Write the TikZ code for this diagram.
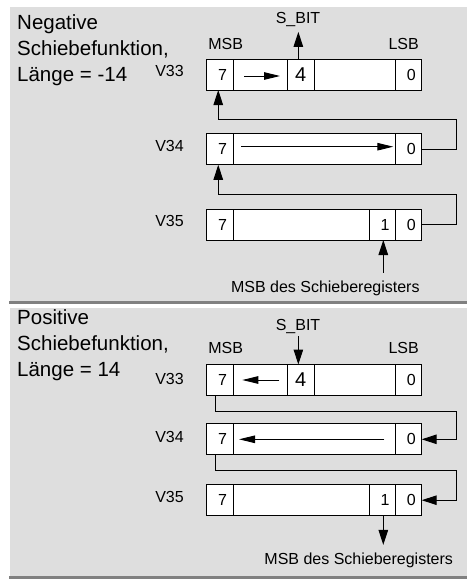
\documentclass[tikz,border=0pt]{standalone}
\usepackage{fontspec}
\setmainfont{Liberation Sans}
\usetikzlibrary{arrows.meta, calc, positioning}
\definecolor{PanelF}{HTML}{DEDEDE}
\definecolor{RuleG} {HTML}{808080}
\tikzset{
  cell/.style={
    rectangle, draw=black, fill=white, line width=1pt,
    minimum height=31pt, inner sep=0pt, outer sep=0pt,
    font=\fontsize{16}{18}\selectfont,
  },
  % digit sits a little right of the cell centre
  dig/.style={execute at begin node=\hspace*{6pt}},
  lbl/.style={font=\fontsize{16}{18}\selectfont, inner sep=0pt},
  ttl/.style={
    font=\fontsize{20.5}{26.2}\selectfont, align=left,
    inner sep=0pt, anchor=north west,
  },
  arr/.style={-{Triangle[length=15pt,width=9.5pt]}, line width=1pt},
  sarr/.style={-{Triangle[length=16pt,width=7.5pt]}, line width=1pt},
  panel/.style={fill=PanelF, draw=none},
  rulebar/.style={draw=RuleG, line width=2.5pt},
}

\begin{document}
\begin{tikzpicture}[x=1pt,y=-1pt]
  \useasboundingbox (0,0) rectangle (467,579);

  % panels
  \fill[panel] (10,7) rectangle (467,301);
  \draw[rulebar] (9,302.5) -- (467,302.5);
  \fill[panel] (10,308) rectangle (467,576);
  \draw[rulebar] (9,577.5) -- (467,577.5);

  % ---- negative shift ----
  \node[ttl] (ttlA) at (17,14.5) {Negative\\Schiebefunktion,\\Länge = -14};

  \node[lbl] (mA) at (225.7,44.3) {MSB};
  \node[lbl] (lA) at (403.7,44.3) {LSB};
  \node[lbl] (sbitA) at (298,19.5) {S\_BIT};
  \node[lbl] (v33A) at (169.5,71) {V33};
  \node[lbl] (v34A) at (169.5,146) {V34};
  \node[lbl] (v35A) at (169.5,221) {V35};

  \node[cell, dig, minimum width=27.3pt] (a33s) at (219.65,74.5) {7};
  \node[cell, minimum width=54pt, right=0pt of a33s] (a33m) {};
  \node[cell, minimum width=26.7pt, right=0pt of a33m,
        font=\fontsize{20}{22}\selectfont] (a33b) {4};
  \node[cell, minimum width=81pt, right=0pt of a33b] (a33e) {};
  \node[cell, dig, minimum width=26.7pt, right=0pt of a33e] (a33z) {0};

  \node[cell, dig, minimum width=27.3pt] (a34s) at (219.65,149.3) {7};
  \node[cell, minimum width=161.7pt, right=0pt of a34s] (a34m) {};
  \node[cell, dig, minimum width=26.7pt, right=0pt of a34m] (a34z) {0};

  \node[cell, dig, minimum width=27.3pt] (a35s) at (219.65,224.5) {7};
  \node[cell, minimum width=135.7pt, right=0pt of a35s] (a35m) {};
  \node[cell, dig, minimum width=26pt, right=0pt of a35m] (a35o) {1};
  \node[cell, dig, minimum width=26.7pt, right=0pt of a35o] (a35z) {0};

  \node[lbl, anchor=base] (msbA) at (325.3,292.5) {MSB des Schieberegisters};

  \draw[sarr] ($(a33m.west)+(11,1.5)$) -- ($(a33m.east)+(-7.3,1.5)$);
  \draw[sarr] ($(a34m.west)+(7.7,-2.6)$) -- ($(a34m.east)+(-1.7,-2.6)$);
  \draw[arr, shorten >=5pt] ([xshift=-2.3pt]a33b.north)
        -- ([xshift=-2.3pt]a33b.north |- sbitA.south);

  \coordinate (t1) at (456.7,119);
  \coordinate (t2) at (456.7,194);
  \draw[arr] (a34z.east) -| (t1) -| ([xshift=-1.4pt]a33s.south);
  \draw[arr] (a35z.east) -| (t2) -| ([xshift=-1.4pt]a34s.south);
  \draw[arr, shorten <=7.8pt] ([xshift=1.3pt]a35o.south |- msbA.north)
        -- ([xshift=1.3pt]a35o.south);

  % ---- positive shift ----
  \node[ttl] (ttlB) at (17,309.5) {Positive\\Schiebefunktion,\\Länge = 14};

  \node[lbl] (mB) at (225.7,348.3) {MSB};
  \node[lbl] (lB) at (403.7,348.3) {LSB};
  \node[lbl] (sbitB) at (298,326) {S\_BIT};
  \node[lbl] (v33B) at (169.5,379.3) {V33};
  \node[lbl] (v34B) at (169.5,436.7) {V34};
  \node[lbl] (v35B) at (169.5,496.7) {V35};

  \node[cell, dig, minimum width=27.3pt] (b33s) at (219.65,380) {7};
  \node[cell, minimum width=54pt, right=0pt of b33s] (b33m) {};
  \node[cell, minimum width=26.7pt, right=0pt of b33m,
        font=\fontsize{20}{22}\selectfont] (b33b) {4};
  \node[cell, minimum width=81pt, right=0pt of b33b] (b33e) {};
  \node[cell, dig, minimum width=26.7pt, right=0pt of b33e] (b33z) {0};

  \node[cell, dig, minimum width=27.3pt] (b34s) at (219.65,439.3) {7};
  \node[cell, minimum width=161.7pt, right=0pt of b34s] (b34m) {};
  \node[cell, dig, minimum width=26.7pt, right=0pt of b34m] (b34z) {0};

  \node[cell, dig, minimum width=27.3pt] (b35s) at (219.65,500.2) {7};
  \node[cell, minimum width=135.7pt, right=0pt of b35s] (b35m) {};
  \node[cell, dig, minimum width=26pt, right=0pt of b35m] (b35o) {1};
  \node[cell, dig, minimum width=26.7pt, right=0pt of b35o] (b35z) {0};

  \node[lbl, anchor=base] (msbB) at (358.7,564.5) {MSB des Schieberegisters};

  \draw[sarr] ($(b33m.east)+(-8,0)$) -- ($(b33m.west)+(9,0)$);
  \draw[sarr] ($(b34m.east)+(-10.7,0)$) -- ($(b34m.west)+(5.7,0)$);
  \draw[arr, shorten <=3pt] ([xshift=-2.3pt]b33b.north |- sbitB.south)
        -- ([xshift=-2.3pt]b33b.north);

  \coordinate (b1) at (456.7,411.7);
  \coordinate (b2) at (456.7,470);
  \draw[arr] ([xshift=-3.7pt]b33s.south) |- (b1) |- (b34z.east);
  \draw[arr] ([xshift=-3.7pt]b34s.south) |- (b2) |- (b35z.east);
  \draw[arr, shorten >=7.8pt] ([xshift=1.3pt]b35o.south)
        -- ([xshift=1.3pt]b35o.south |- msbB.north);

\end{tikzpicture}
\end{document}
